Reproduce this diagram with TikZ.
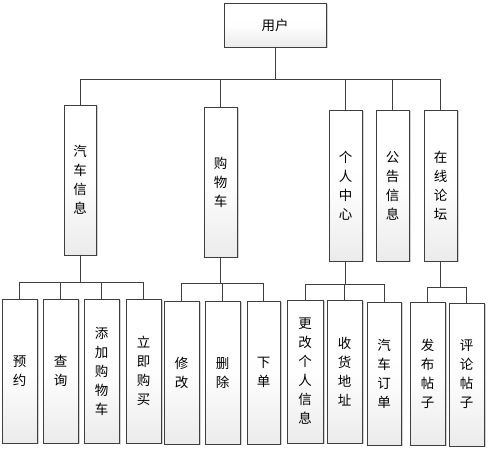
\documentclass[tikz,border=0pt]{standalone}
\usepackage{fontspec}
\newfontfamily\cjk{Noto Sans CJK SC}
\usetikzlibrary{shadows}
\definecolor{edge}{HTML}{3F3F3F}
\definecolor{boxbot}{HTML}{EBEBEB}
\begin{document}
\begin{tikzpicture}[x=1pt,y=-1pt,
  box/.style={draw=edge, line width=0.9pt, inner sep=0pt, outer sep=0pt,
    top color=white, bottom color=boxbot, middle color=white!97!boxbot,
    font=\cjk\fontsize{13.5}{19}\selectfont, align=center, text=black,
    drop shadow={shadow xshift=1.5pt, shadow yshift=-1.5pt, fill=black!30, opacity=0.6}},
  conn/.style={draw=edge, line width=0.9pt}]
\useasboundingbox (0,0) rectangle (488,449);
% root
\node[box, minimum width=102pt, minimum height=44pt] (root) at (275,25) {用户};
% middle row
\node[box, minimum width=32pt, minimum height=150pt] (m1) at (80,180) {汽\\车\\信\\息};
\node[box, minimum width=33pt, minimum height=150pt] (m2) at (220.5,182) {购\\物\\车};
\node[box, minimum width=33pt, minimum height=151pt] (m3) at (345.5,185.5) {个\\人\\中\\心};
\node[box, minimum width=33pt, minimum height=151pt] (m4) at (392.5,185.5) {公\\告\\信\\息};
\node[box, minimum width=33pt, minimum height=151pt] (m5) at (440.5,185.5) {在\\线\\论\\坛};
% bottom row
\node[box, minimum width=35pt, minimum height=144pt] (b1) at (19.5,371) {预\\约};
\node[box, minimum width=35pt, minimum height=144pt] (b2) at (60.5,371) {查\\询};
\node[box, minimum width=35pt, minimum height=144pt] (b3) at (101.5,371) {添\\加\\购\\物\\车};
\node[box, minimum width=35pt, minimum height=144pt] (b4) at (143.5,371) {立\\即\\购\\买};
\node[box, minimum width=35pt, minimum height=143pt] (b5) at (181.5,372.5) {修\\改};
\node[box, minimum width=35pt, minimum height=143pt] (b6) at (222.5,372.5) {删\\除};
\node[box, minimum width=33pt, minimum height=143pt] (b7) at (263.5,372.5) {下\\单};
\node[box, minimum width=36pt, minimum height=143pt] (b8) at (305,371.5) {更\\改\\个\\人\\信\\息};
\node[box, minimum width=35pt, minimum height=143pt] (b9) at (344.5,371.5) {收\\货\\地\\址};
\node[box, minimum width=34pt, minimum height=143pt] (b10) at (384,373.5) {汽\\车\\订\\单};
\node[box, minimum width=35pt, minimum height=143pt] (b11) at (427.5,373.5) {发\\布\\帖\\子};
\node[box, minimum width=35pt, minimum height=143pt] (b12) at (466.5,374.5) {评\\论\\帖\\子};
% bus coordinates
\coordinate (y0) at (0,79);
\coordinate (y1) at (0,282);
\coordinate (y2) at (0,283);
\coordinate (y3) at (0,284);
\coordinate (y5) at (0,287);
% connectors
\foreach \c in {m1,m2,m3,m4,m5}
  \draw[conn] (root.south) -- (root.south |- y0) -| (\c.north);
\foreach \c in {b1,b2,b3,b4}
  \draw[conn] (m1.south) -- (m1.south |- y1) -| (\c.north);
\foreach \c in {b5,b6,b7}
  \draw[conn] (m2.south) -- (m2.south |- y2) -| (\c.north);
\foreach \c in {b8,b9,b10}
  \draw[conn] (m3.south) -- (m3.south |- y3) -| (\c.north);
\foreach \c in {b11,b12}
  \draw[conn] (m5.south) -- (m5.south |- y5) -| (\c.north);
\end{tikzpicture}
\end{document}
